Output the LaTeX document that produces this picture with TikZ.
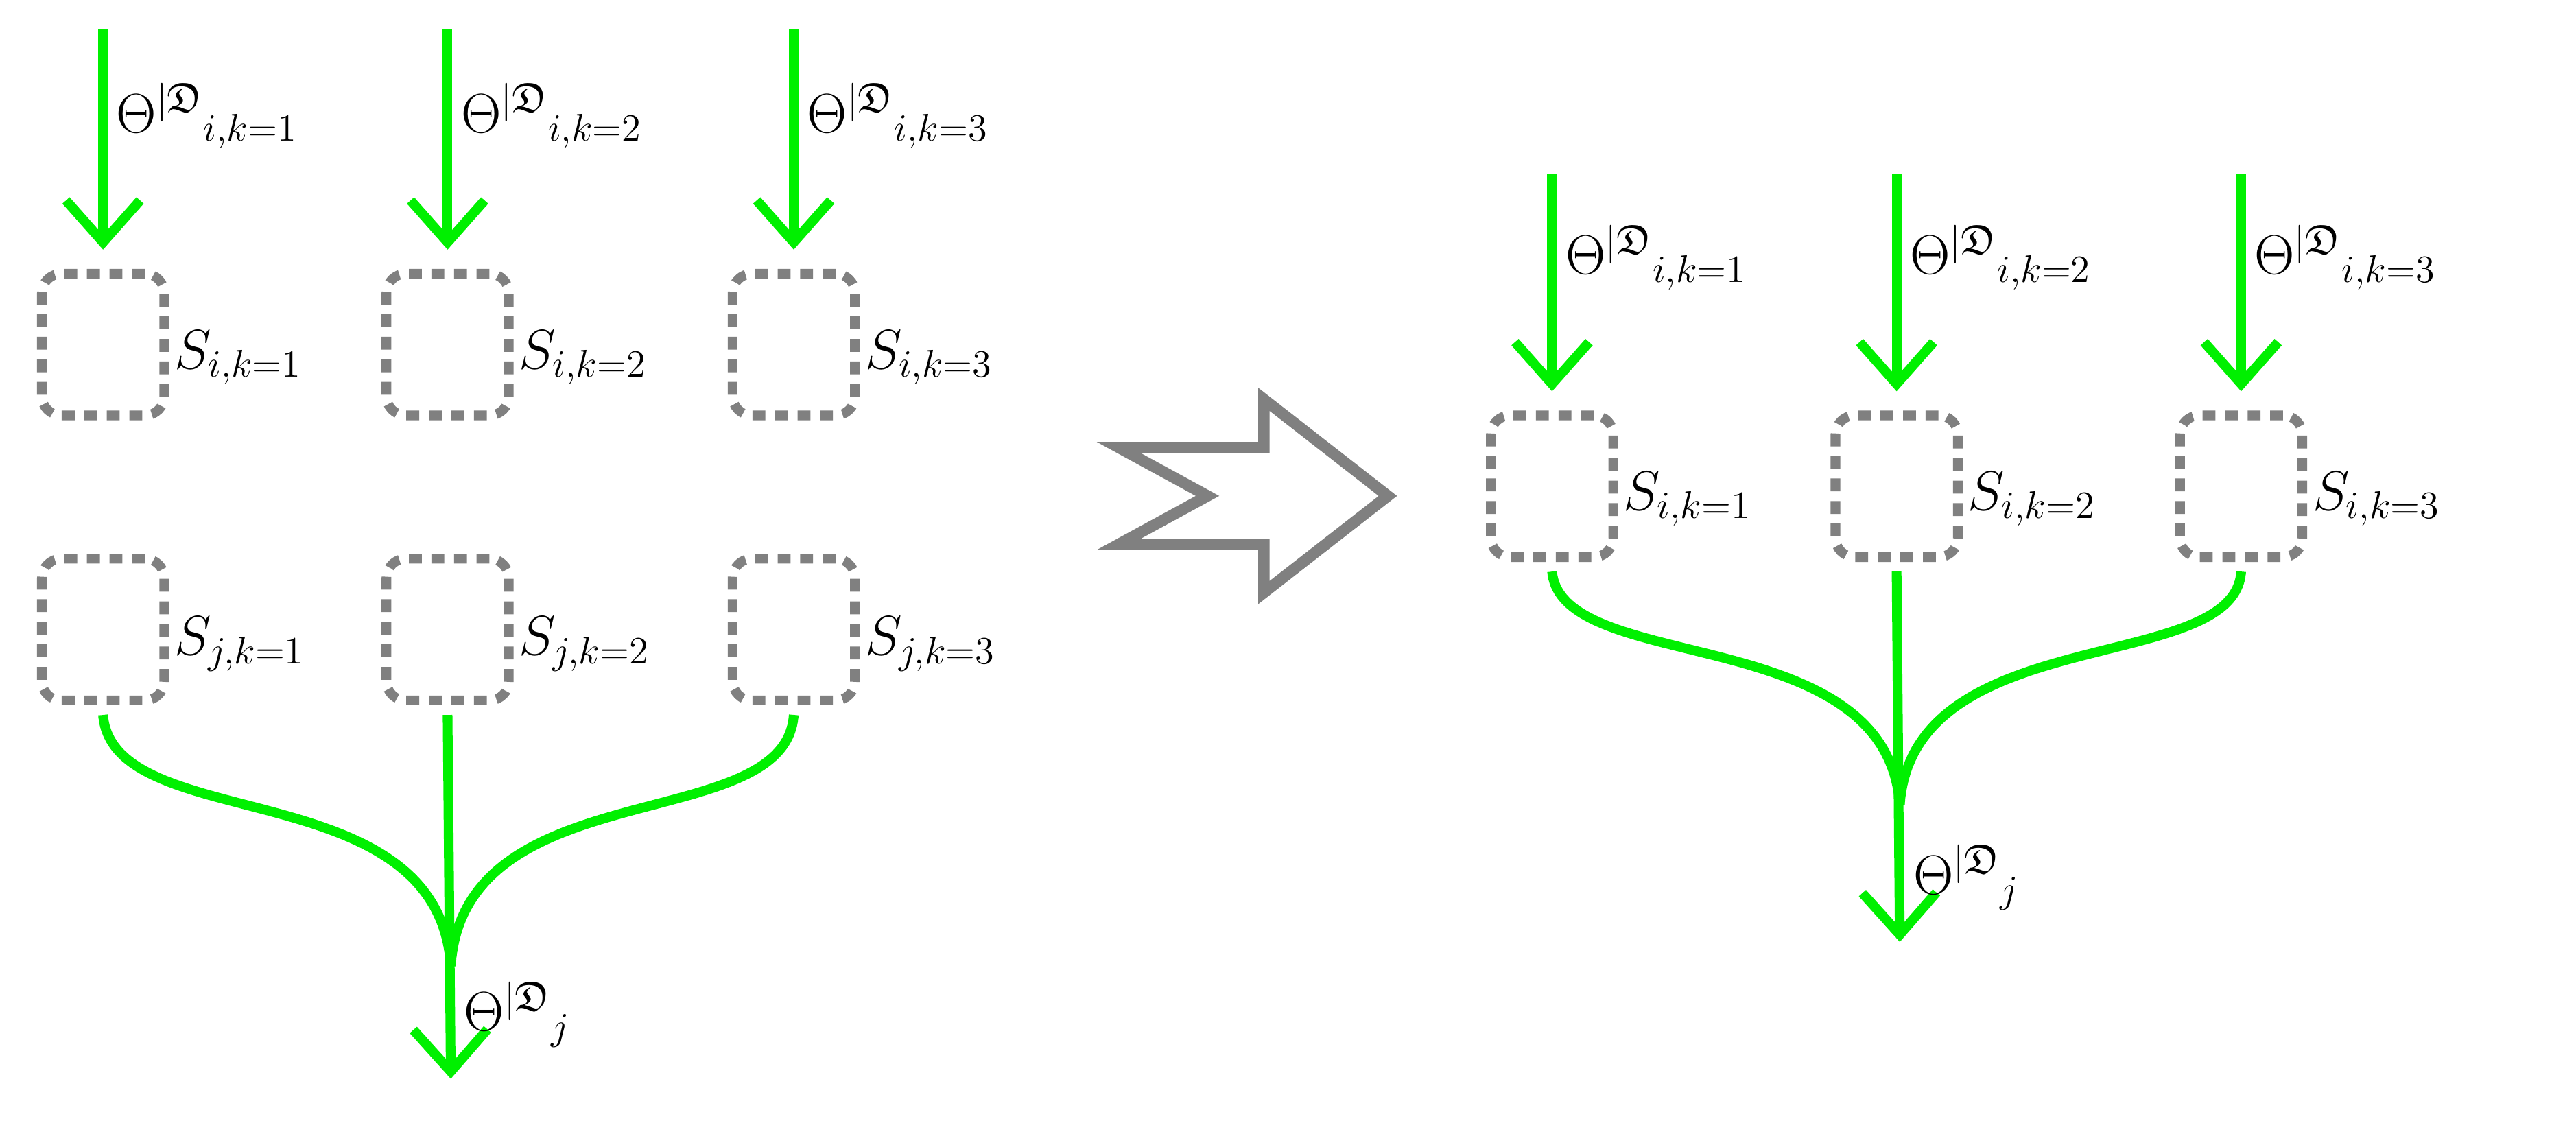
\documentclass[tikz,border=0pt]{standalone}
\usepackage{amsfonts}
\usetikzlibrary{arrows.meta}
\begin{document}
\begin{tikzpicture}[x=0.5pt,y=-0.5pt,
  flow/.style={draw={rgb,255:red,0;green,240;blue,0},line width=3pt},
  flowarr/.style={flow,-{Straight Barb[length=13pt,width=23pt,line width=3pt]}},
  dbox/.style={draw=gray,line width=3pt,dash pattern=on 4pt off 3pt,rounded corners=6pt,minimum width=38pt,minimum height=44pt,inner sep=0pt},
  lab/.style={font=\fontsize{18.5}{22}\selectfont,anchor=west,inner sep=1pt}]
\useasboundingbox (0,0) rectangle (1600,703);
% ---------- left ----------
\foreach \n/\x/\k in {a/64/1,b/278/2,c/493/3}{
  \node[dbox] (i\n) at (\x,214) {};
  \node[lab] (si\n) at (\x+42,222) {$S_{i,k=\k}$};
  \coordinate (t\n) at (\x,18);
  \draw[flowarr] (t\n) -- ([yshift=6pt]i\n.north);
  \node[lab] (th\n) at (\x+6,72) {$\Theta^{|\mathfrak{D}}{}_{i,k=\k}$};
  \node[dbox] (j\n) at (\x,391) {};
  \node[lab] (sj\n) at (\x+42,400) {$S_{j,k=\k}$};
}
\coordinate (lm) at (280,600);
\coordinate (lend) at (280,670);
\draw[flow] ([yshift=-3pt]ja.south) .. controls (70,520) and (272,478) .. (lm);
\draw[flow] ([yshift=-3pt]jc.south) .. controls (488,520) and (288,478) .. (lm);
\draw[flowarr] ([yshift=-3pt]jb.south) -- (lend);
\node[lab] (thj) at (286,630) {$\Theta^{|\mathfrak{D}}{}_{j}$};
% ---------- transition arrow ----------
\draw[gray,line width=3.5pt,miter limit=10] (695,278) -- (750,308) -- (695,338) -- (785,338) -- (785,368) -- (862,308) -- (785,248) -- (785,278) -- cycle;
% ---------- right ----------
\foreach \n/\x/\k in {a/964/1,b/1178/2,c/1392/3}{
  \node[dbox] (ri\n) at (\x,302) {};
  \node[lab] (rsi\n) at (\x+42,310) {$S_{i,k=\k}$};
  \coordinate (rt\n) at (\x,108);
  \draw[flowarr] (rt\n) -- ([yshift=6pt]ri\n.north);
  \node[lab] (rth\n) at (\x+6,160) {$\Theta^{|\mathfrak{D}}{}_{i,k=\k}$};
}
\coordinate (rm) at (1180,500);
\coordinate (rend) at (1180,585);
\draw[flow] ([yshift=-3pt]ria.south) .. controls (970,420) and (1172,385) .. (rm);
\draw[flow] ([yshift=-3pt]ric.south) .. controls (1388,420) and (1188,385) .. (rm);
\draw[flowarr] ([yshift=-3pt]rib.south) -- (rend);
\node[lab] (rthj) at (1186,545) {$\Theta^{|\mathfrak{D}}{}_{j}$};
\end{tikzpicture}
\end{document}
